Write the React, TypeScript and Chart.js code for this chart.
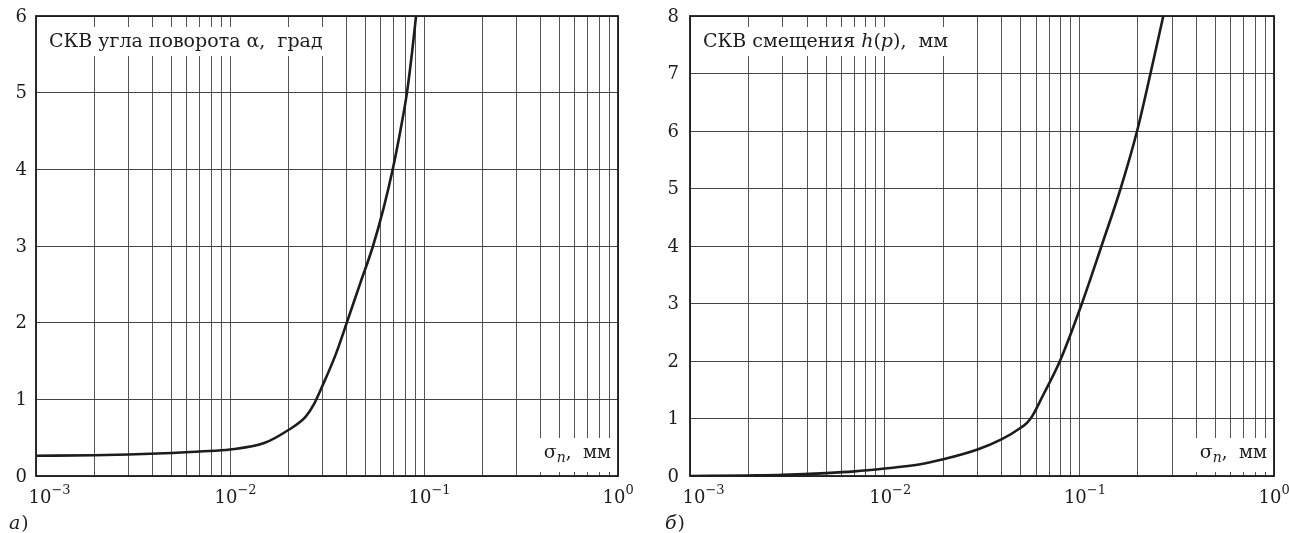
import React, { useEffect, useRef } from "react";
import { Chart, registerables } from "chart.js";

Chart.register(...registerables);

// ---- data ----
const sigmaA = [0.001, 0.002, 0.003, 0.005, 0.007, 0.01, 0.015, 0.02, 0.0245, 0.027, 0.03, 0.035, 0.04, 0.047, 0.0546, 0.062, 0.069, 0.0755, 0.0817, 0.087, 0.091];
const skvAlpha = [0.265, 0.27, 0.28, 0.3, 0.32, 0.345, 0.43, 0.6, 0.77, 0.93, 1.18, 1.58, 2.0, 2.52, 3.0, 3.5, 4.0, 4.5, 5.0, 5.55, 6.0];

const sigmaB = [0.001, 0.002, 0.003, 0.005, 0.007, 0.01, 0.015, 0.02, 0.03, 0.04, 0.05, 0.054, 0.0575, 0.065, 0.0795, 0.1031, 0.13, 0.163, 0.198, 0.232, 0.27];
const skvH = [0.0, 0.01, 0.02, 0.05, 0.08, 0.13, 0.2, 0.29, 0.46, 0.64, 0.84, 0.93, 1.05, 1.4, 2.0, 3.0, 4.0, 5.0, 6.0, 7.0, 8.0];

const xDecades = [0.001, 0.01, 0.1, 1];
const xDecadeExponents = ["\u22123", "\u22122", "\u22121", "0"];
const yTicksA = [0, 1, 2, 3, 4, 5, 6];
const yTicksB = [0, 1, 2, 3, 4, 5, 6, 7, 8];

const titleA = [{ t: "СКВ угла поворота α,  град" }];
const titleB = [{ t: "СКВ смещения " }, { t: "h", i: true }, { t: "(" }, { t: "p", i: true }, { t: "),  мм" }];
const panelA = "а";
const panelB = "б";

const FONT = "'DejaVu Serif', 'Liberation Serif', serif";
const INK = "#1c1c1c";

type Seg = { t: string; i?: boolean };

const overlayPlugin = {
  id: "overlay",
  afterDraw(chart: any, _args: any, opts: any) {
    const { ctx, chartArea: a, scales } = chart;
    const xs = scales.x;
    const ys = scales.y;
    ctx.save();
    // frame
    ctx.strokeStyle = INK;
    ctx.lineWidth = 1.8;
    ctx.strokeRect(a.left, a.top, a.right - a.left, a.bottom - a.top);

    ctx.fillStyle = INK;
    // y tick labels
    ctx.font = `18px ${FONT}`;
    ctx.textAlign = "right";
    ctx.textBaseline = "middle";
    for (const v of opts.yTicks) {
      ctx.fillText(String(v), a.left - opts.yGap, ys.getPixelForValue(v) + 1);
    }
    // x tick labels
    ctx.textAlign = "left";
    ctx.textBaseline = "alphabetic";
    xDecades.forEach((v: number, i: number) => {
      const px = xs.getPixelForValue(v);
      ctx.font = `18px ${FONT}`;
      const w = ctx.measureText("10").width;
      const off = i === 0 ? 4 : -4;
      const x0 = px - w / 2 + off;
      ctx.fillText("10", x0, a.bottom + 27);
      ctx.font = `13px ${FONT}`;
      ctx.fillText(xDecadeExponents[i], x0 + w, a.bottom + 18);
    });

    // title box
    const segs: Seg[] = opts.title;
    const TF = 19;
    let tw = 0;
    for (const s of segs) {
      ctx.font = `${s.i ? "italic " : ""}${TF}px ${FONT}`;
      tw += ctx.measureText(s.t).width;
    }
    ctx.fillStyle = "#ffffff";
    ctx.fillRect(a.left + 1, a.top + 11, tw + 22, 29);
    ctx.fillStyle = INK;
    let cx = a.left + 13;
    for (const s of segs) {
      ctx.font = `${s.i ? "italic " : ""}${TF}px ${FONT}`;
      ctx.fillText(s.t, cx, a.top + 31);
      cx += ctx.measureText(s.t).width;
    }

    // sigma_n label
    ctx.font = `19px ${FONT}`;
    const wS = ctx.measureText("σ").width;
    ctx.font = `italic 14px ${FONT}`;
    const wN = ctx.measureText("n").width;
    ctx.font = `18px ${FONT}`;
    const wR = ctx.measureText(",  мм").width;
    const total = wS + wN + wR;
    const boxW = total + 16;
    ctx.fillStyle = "#ffffff";
    ctx.fillRect(a.right - boxW, a.bottom - 38, boxW - 1, 34);
    ctx.fillStyle = INK;
    let sx = a.right - 7 - total;
    const base = a.bottom - 18;
    ctx.font = `19px ${FONT}`;
    ctx.fillText("σ", sx, base);
    sx += wS;
    ctx.font = `italic 14px ${FONT}`;
    ctx.fillText("n", sx, base + 4);
    sx += wN;
    ctx.font = `18px ${FONT}`;
    ctx.fillText(",  мм", sx, base);

    // panel letter
    ctx.font = `italic 19px ${FONT}`;
    ctx.fillText(opts.panel, opts.panelX, 529);
    const wp = ctx.measureText(opts.panel).width;
    ctx.font = `19px ${FONT}`;
    ctx.fillText(")", opts.panelX + wp + 1, 529);

    ctx.restore();
  },
};

function gridValues(): number[] {
  const vals: number[] = [];
  for (let e = -3; e < 0; e++) {
    for (let m = 1; m <= 9; m++) vals.push(parseFloat((m * Math.pow(10, e)).toPrecision(3)));
  }
  vals.push(1);
  return vals;
}

function LogChart(props: {
  xs: number[];
  ys: number[];
  yMax: number;
  yTicks: number[];
  yGap: number;
  title: Seg[];
  panel: string;
  panelX: number;
  width: number;
  pad: { left: number; right: number; top: number; bottom: number };
}) {
  const ref = useRef<HTMLCanvasElement | null>(null);
  useEffect(() => {
    if (!ref.current) return;
    const pts = props.xs.map((x, i) => ({ x, y: props.ys[i] }));
    const grid = gridValues();
    const chart = new Chart(ref.current, {
      type: "line",
      data: {
        datasets: [
          {
            data: pts,
            borderColor: INK,
            borderWidth: 2.6,
            pointRadius: 0,
            fill: false,
            cubicInterpolationMode: "monotone",
          },
        ],
      },
      options: {
        animation: false,
        responsive: false,
        devicePixelRatio: 1,
        layout: { padding: props.pad },
        plugins: {
          legend: { display: false },
          tooltip: { enabled: false },
          overlay: { yTicks: props.yTicks, yGap: props.yGap, title: props.title, panel: props.panel, panelX: props.panelX },
        } as any,
        scales: {
          x: {
            type: "logarithmic",
            min: 0.001,
            max: 1,
            afterBuildTicks: (axis: any) => {
              axis.ticks = grid.map((v) => ({ value: v }));
            },
            ticks: { display: false, autoSkip: false },
            grid: { color: "#555555", lineWidth: 1, drawTicks: false },
            border: { display: false },
          },
          y: {
            type: "linear",
            min: 0,
            max: props.yMax,
            afterBuildTicks: (axis: any) => {
              axis.ticks = props.yTicks.map((v) => ({ value: v }));
            },
            ticks: { display: false },
            grid: { color: "#444444", lineWidth: 1, drawTicks: false },
            border: { display: false },
          },
        },
      } as any,
      plugins: [overlayPlugin as any],
    });
    return () => chart.destroy();
  }, []);
  return <canvas ref={ref} width={props.width} height={533} style={{ display: "block", width: props.width, height: 533 }} />;
}

export default function App() {
  return (
    <div style={{ position: "fixed", left: 0, top: 0, width: 1289, height: 533, background: "#fff", display: "flex" }}>
      <LogChart
        xs={sigmaA}
        ys={skvAlpha}
        yMax={6}
        yTicks={yTicksA}
        yGap={9}
        title={titleA}
        panel={panelA}
        panelX={9}
        width={640}
        pad={{ left: 36, right: 22, top: 16, bottom: 57 }}
      />
      <LogChart
        xs={sigmaB}
        ys={skvH}
        yMax={8}
        yTicks={yTicksB}
        yGap={11}
        title={titleB}
        panel={panelB}
        panelX={25}
        width={649}
        pad={{ left: 50, right: 15, top: 16, bottom: 57 }}
      />
    </div>
  );
}
